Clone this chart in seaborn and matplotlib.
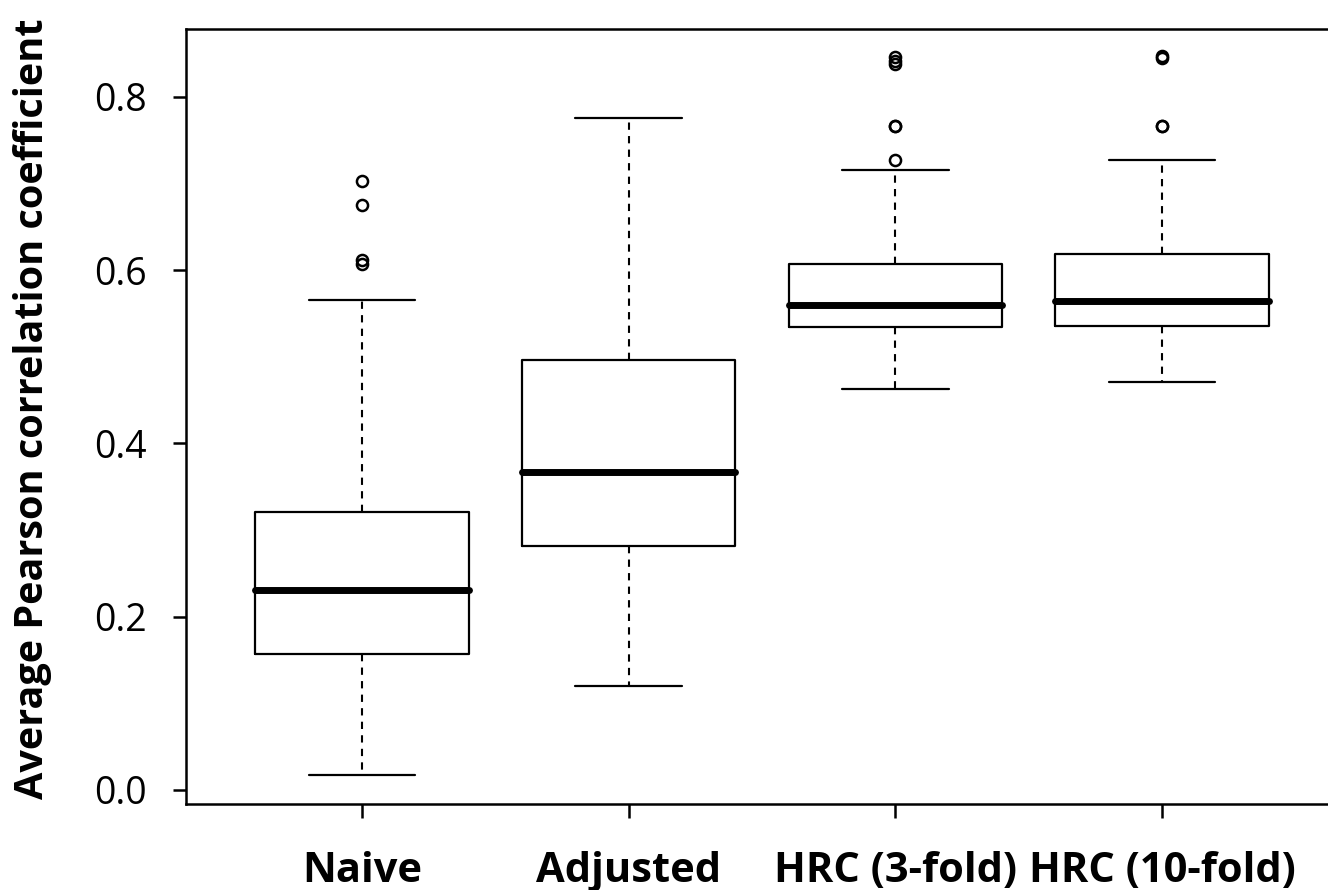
import numpy as np
import matplotlib
matplotlib.use("Agg")
import matplotlib.pyplot as plt
import seaborn as sns

# Summary statistics
methods = ["Naive", "Adjusted", "HRC (3-fold)", "HRC (10-fold)"]
whisker_low = [0.017, 0.120, 0.463, 0.471]
q1 = [0.157, 0.282, 0.534, 0.536]
median = [0.231, 0.367, 0.560, 0.565]
q3 = [0.321, 0.496, 0.607, 0.619]
whisker_high = [0.566, 0.776, 0.716, 0.727]
outliers = [
    [0.703, 0.675, 0.612, 0.607],
    [],
    [0.846, 0.842, 0.838, 0.767, 0.766, 0.727],
    [0.847, 0.845, 0.767, 0.766],
]

sns.set_theme(style="white")
plt.rcParams["font.family"] = ["Open Sans", "DejaVu Sans"]
plt.rcParams["text.color"] = "black"

# build the stats dicts that bxp wants
stats = []
for i, m in enumerate(methods):
    stats.append({
        "label": m,
        "whislo": whisker_low[i],
        "q1": q1[i],
        "med": median[i],
        "q3": q3[i],
        "whishi": whisker_high[i],
        "fliers": np.array(outliers[i]),
    })

fig = plt.figure(figsize=(13.28, 8.9), dpi=100)
# axes runs past the right edge like the cropped original
ax = fig.add_axes([186 / 1328, 1 - 804 / 890, (1338 - 186) / 1328, (804 - 29) / 890])

ax.bxp(
    stats,
    positions=[1, 2, 3, 4],
    widths=0.8,
    showfliers=True,
    boxprops=dict(color="black", linewidth=1.6),
    medianprops=dict(color="black", linewidth=5, solid_capstyle="round"),
    whiskerprops=dict(color="black", linewidth=1.5, linestyle=(0, (3.5, 3))),
    capprops=dict(color="black", linewidth=1.6),
    capwidths=0.4,
    flierprops=dict(marker="o", markersize=8, markerfacecolor="none",
                    markeredgecolor="black", markeredgewidth=1.8),
)

ax.set_xlim(0.34, 4.66)
ax.set_ylim(-0.0162, 0.8785)
ax.set_yticks([0.0, 0.2, 0.4, 0.6, 0.8])
ax.set_yticklabels(["0.0", "0.2", "0.4", "0.6", "0.8"])
ax.set_xticks([1, 2, 3, 4])
ax.set_xticklabels(methods, fontweight="bold", fontsize=30)

for sp in ax.spines.values():
    sp.set_color("black")
    sp.set_linewidth(1.8)

ax.tick_params(axis="y", labelsize=27, length=9.5, width=1.8, pad=19, left=True, colors="black")
ax.tick_params(axis="x", length=10, width=1.8, pad=24, bottom=True, colors="black")

ax.set_ylabel("Average Pearson correlation coefficient", fontsize=28.5,
              fontweight="bold", color="black")
ax.yaxis.set_label_coords(-0.116, 0.51)

fig.savefig("out.png", dpi=100)
